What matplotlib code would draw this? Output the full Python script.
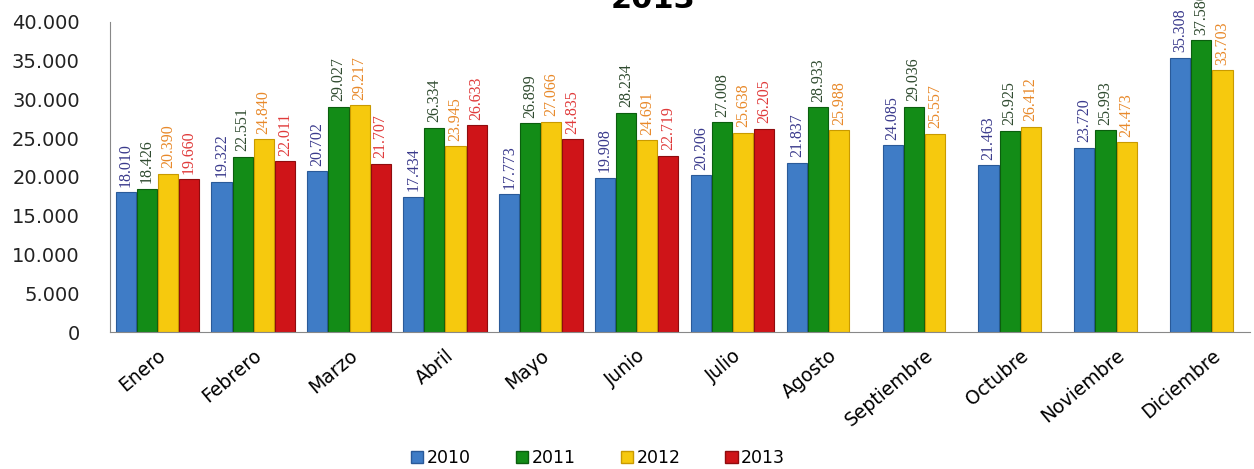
"""Monthly values per year, grouped bars."""
import numpy as np
import matplotlib.pyplot as plt
from matplotlib.ticker import FuncFormatter
from matplotlib.patches import Patch

months = ['Enero', 'Febrero', 'Marzo', 'Abril', 'Mayo', 'Junio', 'Julio',
          'Agosto', 'Septiembre', 'Octubre', 'Noviembre', 'Diciembre']
years = ['2010', '2011', '2012', '2013']

v2010 = [18010, 19322, 20702, 17434, 17773, 19908, 20206, 21837, 24085, 21463, 23720, 35308]
v2011 = [18426, 22551, 29027, 26334, 26899, 28234, 27008, 28933, 29036, 25925, 25993, 37580]
v2012 = [20390, 24840, 29217, 23945, 27066, 24691, 25638, 25988, 25557, 26412, 24473, 33703]
v2013 = [19660, 22011, 21707, 26633, 24835, 22719, 26205, np.nan, np.nan, np.nan, np.nan, np.nan]

bar_colors = ['#3f7cc6', '#138c17', '#f6c90e', '#cf1418']
edge_colors = ['#2a5a99', '#0b5e0e', '#c99a00', '#8f0c0e']
label_colors = ['#3a3a8c', '#2f4a2f', '#e8892a', '#e03a3a']


def thousands(v, pos=None):
    return '{:,.0f}'.format(v).replace(',', '.')


def main():
    fig = plt.figure(figsize=(12.54, 4.69), dpi=100)
    ax = fig.add_axes([0.088, 0.292, 0.909, 0.662])

    x = np.arange(len(months))
    step = 0.22
    for i, (vals, yr) in enumerate(zip([v2010, v2011, v2012, v2013], years)):
        xs = x + (i - 1.5) * step
        ax.bar(xs, vals, width=0.21, color=bar_colors[i],
               edgecolor=edge_colors[i], linewidth=0.8, label=yr)
        for xx, v in zip(xs, vals):
            if np.isnan(v):
                continue
            ax.annotate(thousands(v), (xx, v), xytext=(0, 4),
                        textcoords='offset points', rotation=90,
                        ha='center', va='bottom', fontsize=11.5,
                        family='Liberation Serif', color=label_colors[i],
                        annotation_clip=False)

    ax.set_xlim(-0.49, 11.4)
    ax.set_ylim(0, 40000)
    ax.set_yticks(np.arange(0, 40001, 5000))
    ax.yaxis.set_major_formatter(FuncFormatter(thousands))
    ax.tick_params(axis='y', labelsize=14, length=0, pad=22, colors='#222222')
    ax.set_xticks(x)
    ax.set_xticklabels(months, rotation=40, ha='right', rotation_mode='anchor',
                       fontsize=13.5)
    ax.tick_params(axis='x', length=0, pad=10)
    for s in ['top', 'right']:
        ax.spines[s].set_visible(False)
    ax.spines['left'].set_color('#888888')
    ax.spines['bottom'].set_color('#888888')

    handles = [Patch(facecolor=bar_colors[i], edgecolor=edge_colors[i]) for i in range(4)]
    fig.legend(handles, years, loc='lower center', bbox_to_anchor=(0.477, -0.03),
               ncol=4, frameon=False, fontsize=12.5, handlelength=0.7,
               handleheight=0.7, handletextpad=0.2, columnspacing=2.6)

    fig.text(653 / 1254, 1 - 8 / 469, '2013', ha='center', va='baseline',
             fontsize=22, fontweight='bold')

    fig.savefig('out.png', dpi=100)


if __name__ == '__main__':
    main()
